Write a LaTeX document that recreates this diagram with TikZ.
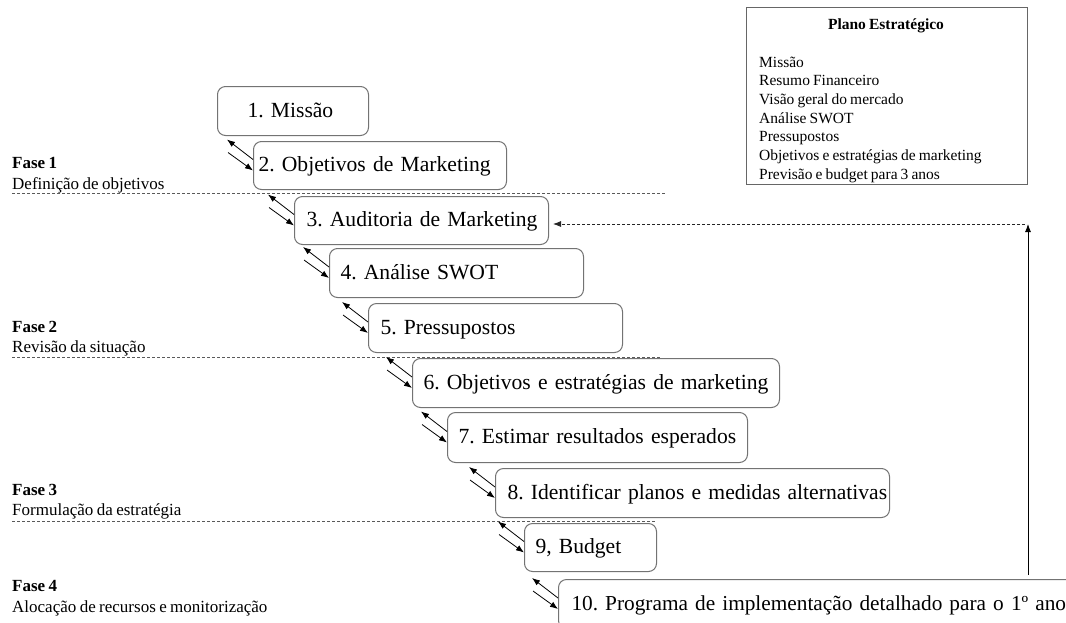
\documentclass[tikz,border=0pt]{standalone}
\usepackage{fontspec}
\setmainfont[WordSpace=0.8]{Liberation Serif}
\usetikzlibrary{arrows.meta}
\begin{document}
\frenchspacing
\begin{tikzpicture}[x=1pt,y=-1pt,
  stepbox/.style={draw=black!55, line width=1pt, rounded corners=8pt, fill=white,
    minimum height=49pt, inner xsep=0pt, inner ysep=0pt, text height=16pt, text depth=4pt,
    align=left, font=\fontsize{21.6}{26}\selectfont\frenchspacing, anchor=north west},
  arr/.style={line width=0.8pt, -{Latex[length=8pt,width=6pt]}},
  phaseline/.style={draw=black!65, line width=0.8pt, dash pattern=on 3pt off 2pt},
  fbdash/.style={draw=black!85, line width=0.8pt, dash pattern=on 3pt off 2pt},
  phasetitle/.style={anchor=base west, inner sep=0pt, font=\fontsize{17}{20}\selectfont\bfseries},
  phasetext/.style={anchor=base west, inner sep=0pt, font=\fontsize{17}{20}\selectfont},
  plantext/.style={anchor=base west, inner sep=0pt, font=\fontsize{15.5}{18.7}\selectfont},
  planbox/.style={draw=black!60, line width=1.2pt, anchor=north west, inner sep=0pt}
]
\useasboundingbox (0,0) rectangle (1066,622);
\clip (0,0) rectangle (1066,622);

% phase separators
\coordinate (d1a) at (12,193); \coordinate (d1b) at (665,193);
\coordinate (d2a) at (12,357); \coordinate (d2b) at (660,357);
\coordinate (d3a) at (12,521); \coordinate (d3b) at (655,521);
\draw[phaseline] (d1a) -- (d1b);
\draw[phaseline] (d2a) -- (d2b);
\draw[phaseline] (d3a) -- (d3b);

% phase labels
\node[phasetitle] (f1) at (12,168) {Fase 1};
\node[phasetext]  (f1t) at (12,189) {Definição de objetivos};
\node[phasetitle] (f2) at (12,332) {Fase 2};
\node[phasetext]  (f2t) at (12,352) {Revisão da situação};
\node[phasetitle] (f3) at (12,495) {Fase 3};
\node[phasetext]  (f3t) at (12,515) {Formulação da estratégia};
\node[phasetitle] (f4) at (12,591) {Fase 4};
\node[phasetext]  (f4t) at (12,612) {Alocação de recursos e monitorização};

% step boxes
\node[stepbox, text width=151pt] (b1) at (217,86) {\hspace*{30pt}\mbox{1. Missão}};
\node[stepbox, text width=253pt, minimum height=48pt] (b2) at (253,141) {\hspace*{5pt}\mbox{2. Objetivos de Marketing}};
\node[stepbox, text width=254pt, minimum height=48pt] (b3) at (294,196) {\hspace*{12pt}\mbox{3. Auditoria de Marketing}};
\node[stepbox, text width=254pt] (b4) at (329,248) {\hspace*{11pt}\mbox{4. Análise SWOT}};
\node[stepbox, text width=254pt] (b5) at (368,303) {\hspace*{12pt}\mbox{5. Pressupostos}};
\node[stepbox, text width=367pt] (b6) at (412,358) {\hspace*{11pt}\mbox{6. Objetivos e estratégias de marketing}};
\node[stepbox, text width=300pt, minimum height=50pt] (b7) at (447,412) {\hspace*{11pt}\mbox{7. Estimar resultados esperados}};
\node[stepbox, text width=394pt] (b8) at (495,468) {\hspace*{12pt}\mbox{8. Identificar planos e medidas alternativas}};
\node[stepbox, text width=132pt, minimum height=48pt] (b9) at (524,523) {\hspace*{11pt}\mbox{9, Budget}};
\node[stepbox, text width=530pt, font=\fontsize{21.3}{26}\selectfont\frenchspacing] (b10) at (558,579) {\hspace*{13pt}\mbox{10. Programa de implementação detalhado para o 1º ano}};

% double arrows between consecutive steps
\foreach \k in {2,...,10}{
  \draw[arr] ([yshift=6pt]b\k.west) -- ++(-26,-20);
  \draw[arr] ([xshift=-25pt,yshift=13pt]b\k.west) -- ([yshift=-5pt]b\k.west);
}

% feedback loop
\coordinate (fbtop) at (1028,224);
\draw[arr] ([yshift=4pt]b10.north west -| fbtop) -- (fbtop);
\draw[fbdash, arr] ([xshift=-3pt]fbtop) -- ([xshift=4pt]b3.east |- fbtop);

% strategic plan box
\node[planbox, minimum width=281pt, minimum height=177pt] (plan) at (746,7) {};
\node[anchor=base, inner sep=0pt, font=\fontsize{15.5}{18.7}\selectfont\bfseries] (pt) at (886,29) {Plano Estratégico};
\node[plantext] (p1) at (759,67) {Missão};
\node[plantext] (p2) at (759,85.7) {Resumo Financeiro};
\node[plantext] (p3) at (759,104.4) {Visão geral do mercado};
\node[plantext] (p4) at (759,123.1) {Análise SWOT};
\node[plantext] (p5) at (759,141.8) {Pressupostos};
\node[plantext] (p6) at (759,160.5) {Objetivos e estratégias de marketing};
\node[plantext] (p7) at (759,179.2) {Previsão e budget para 3 anos};
\end{tikzpicture}
\end{document}
